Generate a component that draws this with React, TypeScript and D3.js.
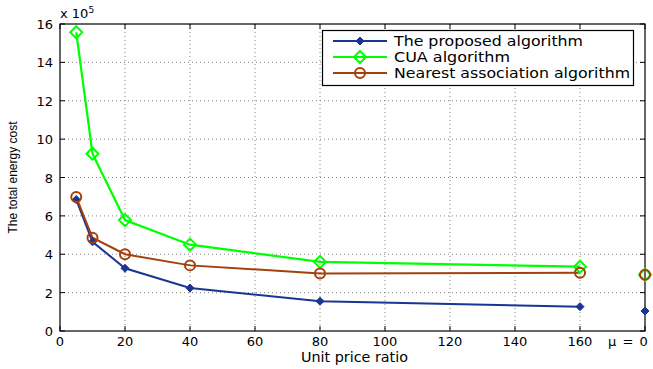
import React, { useEffect, useRef } from 'react';
import * as d3 from 'd3';

// unit price ratio; 180 stands for the "μ = 0" case
const ratios = [5, 10, 20, 40, 80, 160];
const muZeroX = 180;

const proposed = [6.85, 4.65, 3.27, 2.24, 1.55, 1.27];
const cua = [15.57, 9.24, 5.78, 4.5, 3.6, 3.35];
const nearest = [6.98, 4.86, 4.0, 3.42, 3.0, 3.04];

const proposedMu0 = 1.04;
const cuaMu0 = 2.93;
const nearestMu0 = 2.93;

const xTicks = [0, 20, 40, 60, 80, 100, 120, 140, 160];
const yTicks = [0, 2, 4, 6, 8, 10, 12, 14, 16];

const legendLabels = ['The proposed algorithm', 'CUA algorithm', 'Nearest association algorithm'];
const legendWidths = [189, 116, 236];

const W = 653;
const H = 369;
const font = 'DejaVu Sans, sans-serif';
const narrow = 'Liberation Sans, Arial, sans-serif';

const App: React.FC = () => {
  const svgRef = useRef<SVGSVGElement | null>(null);

  useEffect(() => {
    const svg = d3.select(svgRef.current);
    svg.selectAll('*').remove();

    const left = 60, right = 645, top = 24, bottom = 331;
    const x = d3.scaleLinear().domain([0, 180]).range([left, right]);
    const y = d3.scaleLinear().domain([0, 16]).range([bottom, top]);

    svg.append('rect').attr('width', W).attr('height', H).attr('fill', '#fff');

    // dotted grid
    const grid = svg.append('g').attr('stroke', '#666').attr('stroke-width', 0.8).attr('stroke-dasharray', '1,3');
    xTicks.slice(1).forEach(t => {
      grid.append('line').attr('x1', x(t)).attr('x2', x(t)).attr('y1', top).attr('y2', bottom);
    });
    yTicks.slice(1, -1).forEach(t => {
      grid.append('line').attr('x1', left).attr('x2', right).attr('y1', y(t)).attr('y2', y(t));
    });

    // box + inward ticks
    svg.append('rect').attr('x', left).attr('y', top).attr('width', right - left).attr('height', bottom - top)
      .attr('fill', 'none').attr('stroke', '#000').attr('stroke-width', 1.2);
    const tk = svg.append('g').attr('stroke', '#000').attr('stroke-width', 1);
    [...xTicks, muZeroX].forEach(t => {
      tk.append('line').attr('x1', x(t)).attr('x2', x(t)).attr('y1', bottom).attr('y2', bottom - 5);
      tk.append('line').attr('x1', x(t)).attr('x2', x(t)).attr('y1', top).attr('y2', top + 5);
    });
    yTicks.forEach(t => {
      tk.append('line').attr('x1', left).attr('x2', left + 5).attr('y1', y(t)).attr('y2', y(t));
      tk.append('line').attr('x1', right).attr('x2', right - 5).attr('y1', y(t)).attr('y2', y(t));
    });

    // tick labels
    const lab = svg.append('g').attr('font-family', font).attr('font-size', 13).attr('fill', '#000');
    xTicks.forEach(t => {
      lab.append('text').attr('x', x(t)).attr('y', bottom + 15).attr('text-anchor', 'middle').text(t);
    });
    lab.append('text').attr('x', 608).attr('y', bottom + 15).attr('word-spacing', 2).text('μ = 0');
    yTicks.forEach(t => {
      lab.append('text').attr('x', left - 7).attr('y', y(t) + 5).attr('text-anchor', 'end').text(t);
    });
    const mult = lab.append('text').attr('x', left).attr('y', 18);
    mult.append('tspan').text('x 10');
    mult.append('tspan').attr('font-size', 9).attr('dy', -5).text('5');

    svg.append('text').attr('x', 301).attr('y', 362)
      .attr('font-family', font).attr('font-size', 14)
      .attr('textLength', 107).attr('lengthAdjust', 'spacingAndGlyphs').text('Unit price ratio');
    svg.append('text').attr('transform', `translate(17,${(top + bottom) / 2}) rotate(-90)`)
      .attr('text-anchor', 'middle').attr('font-family', narrow).attr('font-size', 12)
      .text('The total energy cost');

    const line = d3.line<number>().x((_, i) => x(ratios[i])).y(d => y(d));

    const blue = '#1a3593';
    const green = '#00ff00';
    const brown = '#a3400c';

    const diamond = (g: any, cx: number, cy: number, r: number, fill: string, stroke: string, sw: number) => {
      g.append('path')
        .attr('d', `M${cx},${cy - r}L${cx + r},${cy}L${cx},${cy + r}L${cx - r},${cy}Z`)
        .attr('fill', fill).attr('stroke', stroke).attr('stroke-width', sw);
    };
    const circle = (g: any, cx: number, cy: number) => {
      g.append('circle').attr('cx', cx).attr('cy', cy).attr('r', 5)
        .attr('fill', 'none').attr('stroke', brown).attr('stroke-width', 2);
    };

    const series = svg.append('g');
    series.append('path').attr('d', line(proposed)).attr('fill', 'none').attr('stroke', blue).attr('stroke-width', 2);
    series.append('path').attr('d', line(cua)).attr('fill', 'none').attr('stroke', green).attr('stroke-width', 2.2);
    series.append('path').attr('d', line(nearest)).attr('fill', 'none').attr('stroke', brown).attr('stroke-width', 2);

    proposed.forEach((v, i) => diamond(series, x(ratios[i]), y(v), 4, blue, blue, 1));
    cua.forEach((v, i) => diamond(series, x(ratios[i]), y(v), 6, 'none', green, 2));
    nearest.forEach((v, i) => circle(series, x(ratios[i]), y(v)));

    diamond(series, x(muZeroX), y(proposedMu0), 4, blue, blue, 1);
    diamond(series, x(muZeroX), y(cuaMu0), 6, 'none', green, 2);
    circle(series, x(muZeroX), y(nearestMu0));

    // legend
    const lg = svg.append('g');
    lg.append('rect').attr('x', 322.5).attr('y', 30.5).attr('width', 311).attr('height', 55)
      .attr('fill', '#fff').attr('stroke', '#000').attr('stroke-width', 1.2);
    const colors = [blue, green, brown];
    legendLabels.forEach((name, i) => {
      const ly = 41 + i * 16;
      lg.append('line').attr('x1', 333).attr('x2', 387).attr('y1', ly).attr('y2', ly)
        .attr('stroke', colors[i]).attr('stroke-width', 2);
      if (i === 0) diamond(lg, 360, ly, 4, blue, blue, 1);
      if (i === 1) diamond(lg, 360, ly, 6, 'none', green, 2);
      if (i === 2) circle(lg, 360, ly);
      lg.append('text').attr('x', 394).attr('y', ly + 5).attr('font-family', font).attr('font-size', 14)
        .attr('textLength', legendWidths[i]).attr('lengthAdjust', 'spacingAndGlyphs').text(name);
    });
  }, []);

  return (
    <svg ref={svgRef} width={W} height={H} style={{ position: 'absolute', left: 0, top: 0 }} />
  );
};

export default App;
